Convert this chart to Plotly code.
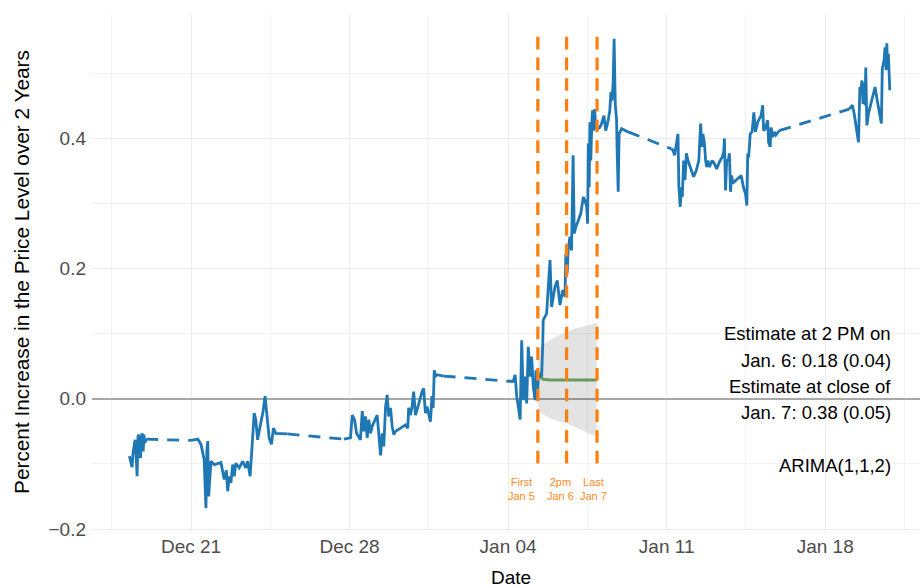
import pandas as pd
import plotly.graph_objects as go

# Reference date: all session times are stored as day offsets from this date
BASE = pd.Timestamp("2014-12-21")

# ---- price path, one pair of lists per trading session ----
s1_day = [-2.72, -2.66, -2.60, -2.56, -2.52, -2.47, -2.42, -2.38, -2.34, -2.30,
          -2.26, -2.23, -2.19, -2.15, -2.11, -2.08, -2.04, -1.98]
s1_val = [-0.088, -0.097, -0.105, -0.084, -0.072, -0.063, -0.090, -0.119, -0.058, -0.055,
          -0.086, -0.091, -0.060, -0.053, -0.081, -0.055, -0.068, -0.062]

s2_day = [0.00, 0.30, 0.44, 0.58, 0.66, 0.70, 0.74, 0.78, 0.81, 0.85,
          0.88, 1.03, 1.18, 1.32, 1.47, 1.56, 1.62, 1.69, 1.76, 1.84,
          1.91, 1.98, 2.13, 2.28, 2.42, 2.50, 2.61, 2.72, 2.79, 2.86,
          2.94, 3.08, 3.18, 3.27, 3.38, 3.45, 3.55, 3.64, 3.74, 3.89, 4.26]
s2_val = [-0.064, -0.062, -0.070, -0.093, -0.168, -0.080, -0.065, -0.150, -0.134, -0.108,
          -0.096, -0.101, -0.099, -0.098, -0.124, -0.110, -0.142, -0.119, -0.129, -0.101,
          -0.119, -0.099, -0.106, -0.096, -0.106, -0.096, -0.119, -0.068, -0.022, -0.032,
          -0.063, -0.037, -0.020, 0.004, -0.037, -0.060, -0.070, -0.045, -0.053, -0.053, -0.054]

s3_day = [6.75, 7.04, 7.12, 7.22, 7.31, 7.41, 7.48, 7.56, 7.63, 7.70,
          7.78, 7.85, 7.93, 8.00, 8.15, 8.22, 8.37, 8.44, 8.51, 8.59,
          8.66, 8.73, 8.81, 8.88, 8.95, 9.03, 9.25, 9.47, 9.57, 9.61,
          9.69, 9.76, 9.83, 9.91, 9.98, 10.05, 10.13, 10.20, 10.27, 10.35,
          10.42, 10.49, 10.57, 10.64, 10.69, 10.74, 10.79, 10.86, 11.15]
s3_val = [-0.062, -0.060, -0.025, -0.032, -0.053, -0.058, -0.063, -0.019, -0.050, -0.027,
          -0.060, -0.032, -0.053, -0.042, -0.030, -0.025, -0.087, -0.053, -0.073, -0.012,
          0.006, -0.027, -0.014, -0.042, -0.055, -0.050, -0.045, -0.040, -0.045, -0.014,
          -0.025, -0.012, 0.011, -0.025, -0.017, -0.007, 0.004, 0.011, 0.016, -0.022,
          -0.012, -0.022, -0.035, 0.004, -0.014, 0.044, 0.034, 0.037, 0.035]

s4_day = [14.04, 14.23, 14.31, 14.38, 14.45, 14.53, 14.60, 14.67, 14.75, 14.82,
          14.89, 14.97, 15.04, 15.11, 15.19, 15.23, 15.29, 15.33, 15.41, 15.48,
          15.53, 15.55, 15.70, 15.85, 15.92, 16.07, 16.17, 16.29, 16.41, 16.51,
          16.55, 16.61, 16.65, 16.73, 16.80, 16.87, 16.92, 16.99, 17.10, 17.21,
          17.32, 17.39, 17.47, 17.51, 17.54, 17.58, 17.61, 17.65, 17.70, 17.73,
          17.79, 17.82, 17.87, 17.98, 18.05, 18.13, 18.23, 18.27, 18.31, 18.42,
          18.49, 18.54, 18.59, 18.64, 18.68, 18.73, 18.79, 18.81, 18.86, 18.90,
          19.01, 19.30]
s4_val = [0.027, 0.027, 0.037, 0.004, -0.012, -0.032, 0.090, -0.002, 0.034, -0.007,
          0.080, 0.034, 0.065, 0.019, -0.002, 0.044, -0.002, 0.032, 0.037, 0.034,
          0.085, 0.121, 0.131, 0.213, 0.141, 0.172, 0.182, 0.144, 0.167, 0.157,
          0.223, 0.193, 0.228, 0.249, 0.228, 0.374, 0.254, 0.264, 0.274, 0.285,
          0.310, 0.305, 0.295, 0.269, 0.392, 0.325, 0.425, 0.366, 0.428, 0.443,
          0.412, 0.445, 0.417, 0.415, 0.417, 0.423, 0.435, 0.423, 0.412, 0.428,
          0.443, 0.471, 0.458, 0.489, 0.553, 0.453, 0.428, 0.387, 0.318, 0.407,
          0.415, 0.410]

s5_day = [21.21, 21.28, 21.35, 21.45, 21.50, 21.54, 21.60, 21.65, 21.69, 21.75,
          21.81, 21.87, 21.94, 22.09, 22.19, 22.31, 22.42, 22.50, 22.55, 22.60,
          22.67, 22.72, 22.77, 22.82, 22.89, 23.01, 23.11, 23.21, 23.33, 23.45,
          23.52, 23.55, 23.60, 23.65, 23.72, 23.77, 23.82, 23.87, 23.92, 24.07,
          24.21, 24.29, 24.39, 24.48, 24.54, 24.58, 24.62, 24.69, 24.77, 24.85,
          24.92, 25.02, 25.09, 25.17, 25.24, 25.28, 25.36, 25.46, 25.50, 25.57,
          25.61, 25.68, 25.75, 25.82, 25.97]
s5_val = [0.384, 0.382, 0.374, 0.394, 0.407, 0.325, 0.295, 0.325, 0.310, 0.366,
          0.336, 0.377, 0.366, 0.351, 0.341, 0.351, 0.366, 0.423, 0.387, 0.407,
          0.392, 0.366, 0.356, 0.366, 0.356, 0.366, 0.361, 0.353, 0.364, 0.371,
          0.379, 0.400, 0.320, 0.366, 0.366, 0.377, 0.318, 0.343, 0.331, 0.336,
          0.341, 0.343, 0.325, 0.315, 0.297, 0.377, 0.371, 0.407, 0.410, 0.440,
          0.410, 0.425, 0.430, 0.435, 0.451, 0.412, 0.415, 0.428, 0.394, 0.387,
          0.417, 0.402, 0.410, 0.405, 0.412]

s6_day = [29.06, 29.13, 29.20, 29.28, 29.38, 29.47, 29.53, 29.57, 29.62, 29.67,
          29.72, 29.76, 29.79, 29.84, 29.91, 30.01, 30.11, 30.20, 30.30, 30.41,
          30.48, 30.52, 30.60, 30.64, 30.69, 30.72, 30.75, 30.79, 30.82, 30.85]
s6_val = [0.445, 0.448, 0.451, 0.438, 0.417, 0.394, 0.479, 0.471, 0.489, 0.453,
          0.486, 0.451, 0.509, 0.420, 0.438, 0.453, 0.468, 0.479, 0.458, 0.433,
          0.423, 0.507, 0.520, 0.540, 0.505, 0.546, 0.515, 0.530, 0.504, 0.474]

sessions = [(s1_day, s1_val), (s2_day, s2_val), (s3_day, s3_val),
            (s4_day, s4_val), (s5_day, s5_val), (s6_day, s6_val)]

# ---- ARIMA(1,1,2) forecast from the first Jan 5 observation ----
fc_day = [15.33, 15.55, 15.85, 16.20, 16.59, 16.95, 17.32, 17.60, 17.91]
fc_mean = [0.036, 0.030, 0.029, 0.029, 0.029, 0.029, 0.029, 0.029, 0.029]
fc_upper = [0.075, 0.083, 0.090, 0.097, 0.103, 0.108, 0.111, 0.114, 0.117]
fc_lower = [-0.018, -0.024, -0.030, -0.034, -0.038, -0.044, -0.049, -0.054, -0.058]

# ---- event markers ----
event_times = ["2015-01-05 07:30", "2015-01-06 14:00", "2015-01-07 22:15"]
event_label_times = ["2015-01-04 14:40", "2015-01-06 07:00", "2015-01-07 18:00"]
event_labels = ["First<br>Jan 5", "2pm<br>Jan 6", "Last<br>Jan 7"]

note_lines = ["Estimate at 2 PM on", "Jan. 6: 0.18 (0.04)", "Estimate at close of",
              "Jan. 7: 0.38 (0.05)", "", "ARIMA(1,1,2)"]

FONT = "Liberation Sans, Arial, Helvetica, sans-serif"
BLUE = "#1f77b4"
ORANGE = "#ff7f0e"


def to_time(days):
    return [BASE + pd.Timedelta(days=d) for d in days]


fig = go.Figure()

# forecast interval ribbon
fc_t = to_time(fc_day)
fig.add_trace(go.Scatter(
    x=fc_t + fc_t[::-1], y=fc_upper + fc_lower[::-1],
    fill="toself", fillcolor="rgba(0,0,0,0.11)", line=dict(width=0),
    mode="lines", hoverinfo="skip"))

# forecast mean
fig.add_trace(go.Scatter(x=fc_t, y=fc_mean, mode="lines",
                         line=dict(color="#6a9a5e", width=3)))

# observed path: solid within sessions
xs, ys = [], []
for d, v in sessions:
    xs += to_time(d) + [None]
    ys += list(v) + [None]
fig.add_trace(go.Scatter(x=xs, y=ys, mode="lines",
                         line=dict(color=BLUE, width=2.8)))

# dashed bridges across market closures
bx, by = [], []
for (d0, v0), (d1, v1) in zip(sessions[:-1], sessions[1:]):
    bx += to_time([d0[-1], d1[0]]) + [None]
    by += [v0[-1], v1[0], None]
fig.add_trace(go.Scatter(x=bx, y=by, mode="lines",
                         line=dict(color=BLUE, width=2.8, dash="12px,9px")))

# vertical event markers
for t in event_times:
    fig.add_trace(go.Scatter(x=[t, t], y=[0.556, -0.105], mode="lines",
                             line=dict(color=ORANGE, width=3.2, dash="12.6px,8.1px")))

annotations = []
for t, lab in zip(event_label_times, event_labels):
    annotations.append(dict(x=t, y=-0.139, xref="x", yref="y", text=lab,
                            showarrow=False, xanchor="center", yanchor="middle",
                            font=dict(family=FONT, size=11, color="#ff8a24")))

note_y = [0.100, 0.0595, 0.019, -0.0215, -0.062, -0.102]
for txt, yv in zip(note_lines, note_y):
    if txt:
        annotations.append(dict(x=0.9674, y=yv, xref="paper", yref="y", text=txt,
                                showarrow=False, xanchor="right", yanchor="middle",
                                font=dict(family=FONT, size=18.5, color="#000000")))

annotations.append(dict(x=0.506, y=-0.088, xref="paper", yref="paper", text="Date",
                        showarrow=False, xanchor="center", yanchor="middle",
                        font=dict(family=FONT, size=19, color="#000000")))
annotations.append(dict(x=-0.0845, y=0.503, xref="paper", yref="paper",
                        text="Percent Increase in the Price Level over 2 Years",
                        textangle=-90, showarrow=False, xanchor="center", yanchor="middle",
                        font=dict(family=FONT, size=20.8, color="#000000")))

x_lo = BASE + pd.Timedelta(days=-4.371)
x_hi = BASE + pd.Timedelta(days=32.185)

fig.update_layout(
    width=920, height=587,
    margin=dict(l=92, r=0, t=15, b=55, autoexpand=False),
    paper_bgcolor="white", plot_bgcolor="white",
    showlegend=False,
    annotations=annotations,
    xaxis=dict(
        type="date", range=[x_lo, x_hi],
        tick0="2014-12-21", dtick=7 * 86400000, tickformat="%b %d",
        showgrid=True, gridcolor="#ebebeb", gridwidth=1.2,
        minor=dict(tick0="2014-12-21", dtick=3.5 * 86400000, showgrid=True,
                   gridcolor="#f2f2f2", gridwidth=1),
        zeroline=False, showline=False, ticks="",
        tickfont=dict(family=FONT, size=19, color="#4d4d4d"),
        ticklabelstandoff=1,
    ),
    yaxis=dict(
        range=[-0.2046, 0.5896], tick0=0, dtick=0.2, tickformat=".1f",
        showgrid=True, gridcolor="#ebebeb", gridwidth=1.2,
        minor=dict(tick0=0, dtick=0.1, showgrid=True, gridcolor="#f2f2f2", gridwidth=1),
        zeroline=True, zerolinecolor="#a8a8a8", zerolinewidth=1.6,
        showline=False, ticks="",
        tickfont=dict(family=FONT, size=19, color="#4d4d4d"),
        ticklabelstandoff=5,
    ),
)

fig.write_html("out.html")
